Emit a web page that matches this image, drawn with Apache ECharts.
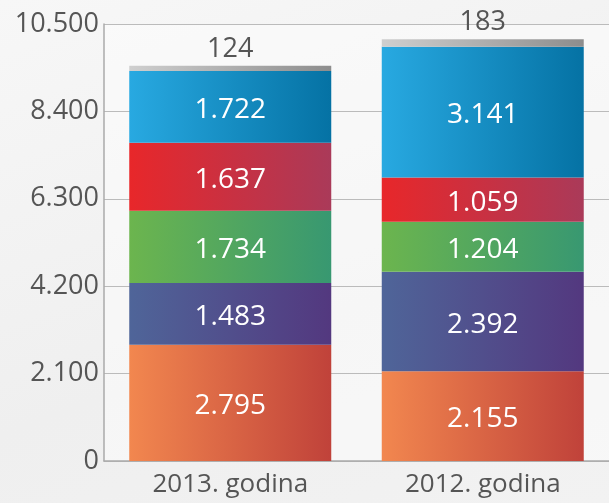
<!DOCTYPE html>
<html><head><meta charset="utf-8">
<script src="https://cdn.jsdelivr.net/npm/echarts@6/dist/echarts.min.js"></script>
<style>html,body{margin:0;padding:0;}#c{width:609px;height:503px;background:linear-gradient(160deg,#f7f7f7 0%,#efefef 60%,#f2f2f2 100%);}</style>
</head><body><div id="c"></div>
<script>
const categories = ["2013. godina", "2012. godina"];
const seriesOrange = [2795, 2155];
const seriesPurple = [1483, 2392];
const seriesGreen = [1734, 1204];
const seriesRed = [1637, 1059];
const seriesBlue = [1722, 3141];
const seriesGray = [124, 183];
const yTicks = [0, 2100, 4200, 6300, 8400, 10500];

const FONT = "Open Sans";
function fmt(v){ return String(v).replace(/\B(?=(\d{3})+(?!\d))/g, "."); }
function grad(a, b){ return new echarts.graphic.LinearGradient(0,0,1,0,[{offset:0,color:a},{offset:1,color:b}]); }
function mk(name, data, c1, c2, inside){
  return {
    name, type:'bar', stack:'t', data, barWidth:'80%',
    itemStyle:{ color: grad(c1,c2) },
    label: inside ? {show:true, position:'inside', offset:[0,3], color:'#fff', fontFamily:FONT, fontSize:28, formatter:p=>fmt(p.value)}
                  : {show:true, position:'top', distance:3, color:'#555', fontFamily:FONT, fontSize:27, formatter:p=>fmt(p.value)}
  };
}
const chart = echarts.init(document.getElementById('c'), null, {renderer:'canvas'});
chart.setOption({
  animation:false,
  grid:{left:104, right:-5, top:24, bottom:42, show:true, backgroundColor:'rgba(255,255,255,0.45)', borderWidth:0},
  xAxis:{type:'category', data:categories,
    axisLine:{lineStyle:{color:'#aaa', width:1.5}},
    axisTick:{show:true, alignWithLabel:true, inside:true, length:3, lineStyle:{color:'#aaa'}},
    axisLabel:{color:'#555', fontFamily:FONT, fontSize:26, margin:11}},
  yAxis:{type:'value', min:yTicks[0], max:yTicks[yTicks.length-1], interval:2100,
    axisLine:{show:true, lineStyle:{color:'#aaa', width:1.5}},
    axisTick:{show:false},
    splitLine:{lineStyle:{color:'#bbb', width:1}},
    axisLabel:{color:'#555', fontFamily:FONT, fontSize:27, margin:5, formatter:v=>fmt(v)}},
  series:[
    mk('a', seriesOrange, '#f2874f', '#c0423a', true),
    mk('b', seriesPurple, '#4f6599', '#53387f', true),
    mk('c', seriesGreen, '#6cb54e', '#389871', true),
    mk('d', seriesRed, '#e8272a', '#aa3a59', true),
    mk('e', seriesBlue, '#28a9e1', '#0572a4', true),
    mk('f', seriesGray, '#cfcfcf', '#8d8d8d', false)
  ]
});
</script></body></html>
